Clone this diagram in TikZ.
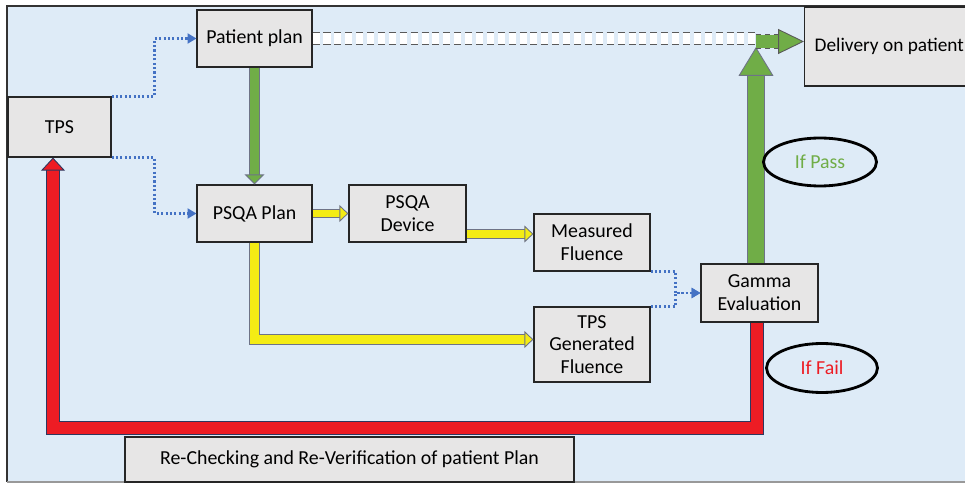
\documentclass[tikz,border=0pt]{standalone}
\usepackage{fontspec}
\setmainfont{Carlito}
\usetikzlibrary{arrows.meta,positioning,shapes.geometric,calc}
\definecolor{bgblue}{RGB}{222,235,247}
\definecolor{boxgray}{RGB}{231,230,230}
\definecolor{passgreen}{RGB}{112,173,71}
\definecolor{flowyellow}{RGB}{244,236,20}
\definecolor{failred}{RGB}{237,28,36}
\definecolor{dotblue}{RGB}{68,114,196}
\definecolor{rimgray}{RGB}{110,115,135}
\definecolor{rimnavy}{RGB}{45,55,95}

\begin{document}
\begin{tikzpicture}[x=0.02cm, y=-0.02cm,
  every node/.style={font=\fontsize{11.3}{13}\selectfont},
  box/.style={draw=black!85, line width=0.7pt, fill=boxgray, align=center,
    minimum width=2.3cm, minimum height=1.14cm, inner sep=2pt},
  oval/.style={draw=black, ellipse, line width=1.6pt, inner sep=0pt},
  dotlink/.style={dotblue, line width=1.3pt, dash pattern=on 1.2pt off 1.3pt,
    -{Triangle[width=6pt,length=5pt,line width=0pt]}},
  blockarrow/.style n args={5}{line width=#3, draw=#1, line join=miter,
    preaction={draw=#2, line width=#3+0.9pt, arrows=-, shorten >=#5-1pt},
    -{Triangle[width=#4, length=#5, line width=0.5pt, fill=#1, color=#2]}}]
  \useasboundingbox (0,0) rectangle (965,483);
  \fill[bgblue] (7,6) rectangle (965,482);
  \draw[black!80, line width=0.6pt] (965,6) -- (7,6) -- (7,482);
  \draw[black!40, line width=0.6pt] (7,482) -- (965,482);

  \node[box, minimum width=2.06cm, minimum height=1.2cm] (tps) at (59.5,127) {TPS};
  \node[box] (pplan) at (254.5,38.5) {Patient plan};
  \node[box] (psqa) at (254.5,213.5) {PSQA Plan};
  \node[box, minimum width=2.34cm] (device) at (407.5,213.5) {PSQA\\Device};
  \node[box, minimum width=2.32cm] (meas) at (592,242.5) {Measured\\Fluence};
  \node[box, minimum width=2.32cm, minimum height=1.5cm] (tpsgen) at (592,344.5)
    {TPS\\Generated\\Fluence};
  \node[box, minimum width=2.34cm, minimum height=1.16cm] (gamma) at (759.5,293)
    {Gamma\\Evaluation};
  \node[box, anchor=west, inner xsep=0.2cm, minimum height=1.58cm,
    font=\fontsize{11}{13}\selectfont] (deliver) at (804,46.5) {Delivery on patient};
  \node[box, minimum width=8.98cm, minimum height=0.9cm] (recheck) at (349.5,459.5)
    {Re-Checking and Re-Verification of patient Plan};

  \coordinate (merge) at (756,41.5);
  \coordinate (passtip) at (756,47);
  \coordinate (redbase) at (400,428);

  % TPS exports
  \draw[dotlink] (tps.north east) -- ++(43,0) |- (pplan.west);
  \draw[dotlink] (tps.south east) -- ++(43,0) |- (psqa.west);
  \draw[dotlink] (meas.south east) -- ++(25,0) |- (gamma.west);
  \draw[dotlink] (tpsgen.north east) -- ++(25,0) |- (gamma.west);

  \draw[blockarrow={passgreen}{rimgray}{5.1pt}{11.3pt}{5.7pt}] (pplan.south) -- (psqa.north);
  \draw[blockarrow={flowyellow}{rimgray}{4.5pt}{9.6pt}{5.1pt}] (psqa.east) -- (device.west);
  \draw[blockarrow={flowyellow}{rimgray}{4.5pt}{9.6pt}{5.1pt}]
    ([yshift=-0.41cm]device.east) -- ([yshift=-0.41cm]device.east -| meas.west);
  \draw[blockarrow={flowyellow}{rimgray}{5pt}{9.6pt}{5.1pt}]
    (psqa.south) |- ([yshift=0.1cm]tpsgen.west);

  % pass / fail
  \draw[blockarrow={passgreen}{rimgray}{9.1pt}{19.8pt}{16.4pt}] (gamma.north -| passtip) -- (passtip);
  \draw[blockarrow={failred}{rimnavy}{7pt}{13.6pt}{7.4pt}]
    ([xshift=-0.05cm]gamma.south) |- (redbase) -| ([xshift=-0.13cm]tps.south);

  \draw[black!65, dash pattern=on 4pt off 2.2pt, line width=0.8pt, double=white, double distance=6.3pt]
    (pplan.east) -- (pplan.east -| merge);
  \draw[line width=7.4pt, passgreen,
    preaction={draw=black!65, dash pattern=on 3pt off 2pt, line width=8.4pt, arrows=-, shorten >=13pt},
    -{Triangle[width=14.2pt, length=14.7pt, line width=0.5pt, fill=passgreen, color=black!65]}]
    (merge) -- (merge -| deliver.west);

  \node[oval, minimum width=2.26cm, minimum height=0.96cm, text=passgreen] (pass) at (820,162) {If Pass};
  \node[oval, minimum width=2.22cm, minimum height=0.98cm, text=failred] (fail) at (822,368) {If Fail};
\end{tikzpicture}
\end{document}
